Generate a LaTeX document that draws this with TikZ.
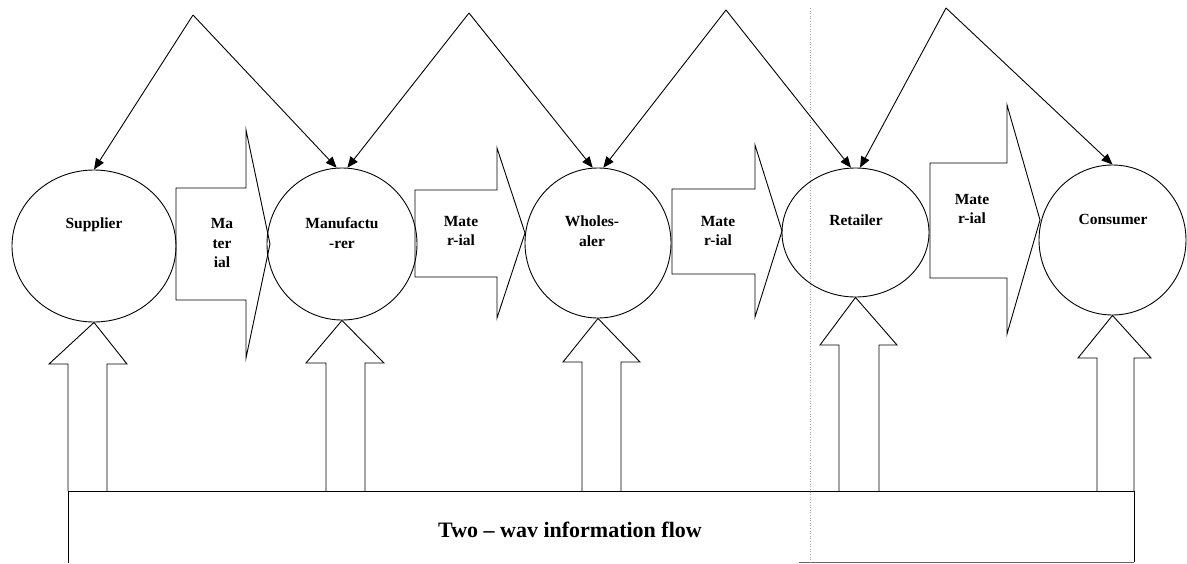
\documentclass[tikz,border=0pt]{standalone}
\usepackage{fontspec}
\setmainfont{Liberation Serif}
\usetikzlibrary{shapes.geometric,arrows.meta,calc}
\begin{document}
\begin{tikzpicture}[x=1pt,y=-1pt,
  line width=0.9pt,
  party/.style={ellipse,draw,inner sep=0pt},
  lbl/.style={font=\fontsize{15.5}{19.5}\selectfont\bfseries,align=center,inner sep=0pt},
  flow/.style={-{Triangle[length=11pt,width=9pt]}},
  blockarrow/.style={draw,line join=miter},
  scanline/.style={draw=black!35,dotted,line width=0.6pt}]
\useasboundingbox (0,0) rectangle (1187,563);

% parties in the chain
\node[party,minimum width=164pt,minimum height=152pt] (sup) at (94,246) {};
\node[party,minimum width=150pt,minimum height=152pt] (man) at (342,244) {};
\node[party,minimum width=146pt,minimum height=150pt] (who) at (598,243) {};
\node[party,minimum width=147pt,minimum height=129pt] (ret) at (855.5,232.5) {};
\node[party,minimum width=147pt,minimum height=150pt] (con) at (1112.5,240) {};

\node[lbl] (tsup) at (94,225) {Supplier};
\node[lbl] (tman) at (342,233) {Manufactu\\-rer};
\node[lbl] (twho) at (592,231) {Wholes-\\aler};
\node[lbl] (tret) at (856,220) {Retailer};
\node[lbl] (tcon) at (1113,219) {Consumer};

% apexes of the top connectors
\coordinate (a1) at (193,15);
\coordinate (a2) at (469,13);
\coordinate (a3) at (726,10);
\coordinate (a4) at (946,8);

\draw[flow] (a1) -- (sup.north);
\draw[flow] (a1) -- (man.94);
\draw[flow] (a2) -- (man.86);
\draw[flow] (a2) -- (who.94);
\draw[flow] (a3) -- (who.86);
\draw[flow] (a3) -- (ret.94);
\draw[flow] (a4) -- (ret.86);
\draw[flow] (a4) -- (con.north);

% material block arrows
\draw[blockarrow] (176,188) -- (246,188) -- (246,130) -- (270,244) -- (246,358) -- (246,300) -- (176,300) -- cycle;
\draw[blockarrow] (415,190) -- (497,190) -- (497,148) -- (525,233) -- (497,318) -- (497,277) -- (415,277) -- cycle;
\draw[blockarrow] (672,189) -- (755,189) -- (755,145) -- (782,231) -- (755,317) -- (755,274) -- (672,274) -- cycle;
\draw[blockarrow] (930,163) -- (1007,163) -- (1007,105) -- (1040,220) -- (1007,334) -- (1007,278) -- (930,278) -- cycle;

\node[lbl] (m1) at (222,243) {Ma\\ter\\ial};
\node[lbl] (m2) at (461,231) {Mate\\r-ial};
\node[lbl] (m3) at (718,231) {Mate\\r-ial};
\node[lbl] (m4) at (972,209) {Mate\\r-ial};

% information arrows rising from the base bar
\draw[blockarrow] (68,491) -- (68,364) -- (49,364) -- (sup.south) -- (127,364) -- (107,364) -- (107,491);
\draw[blockarrow] (326,491) -- (326,363) -- (306,363) -- (man.south) -- (384,363) -- (365,363) -- (365,491);
\draw[blockarrow] (582,491) -- (582,362) -- (563,362) -- (who.south) -- (640,362) -- (621,362) -- (621,491);
\draw[blockarrow] (839,491) -- (839,345) -- (820,345) -- (ret.south) -- (897,345) -- (879,345) -- (879,491);
\draw[blockarrow] (1097,491) -- (1097,358) -- (1078,358) -- (con.south) -- (1151,358) -- (1134,358) -- (1134,491);

% base bar
\draw (68,563) -- (68,491) -- (1134,491) -- (1134,562);
\draw[black!60] (799,562) -- (1134,562);
\node[font=\fontsize{22}{26}\selectfont\bfseries,inner sep=0pt] (info) at (570,530) {Two -- wav information flow};

% faint page fold
\draw[scanline] (810,8) -- (810,563);
\end{tikzpicture}
\end{document}
